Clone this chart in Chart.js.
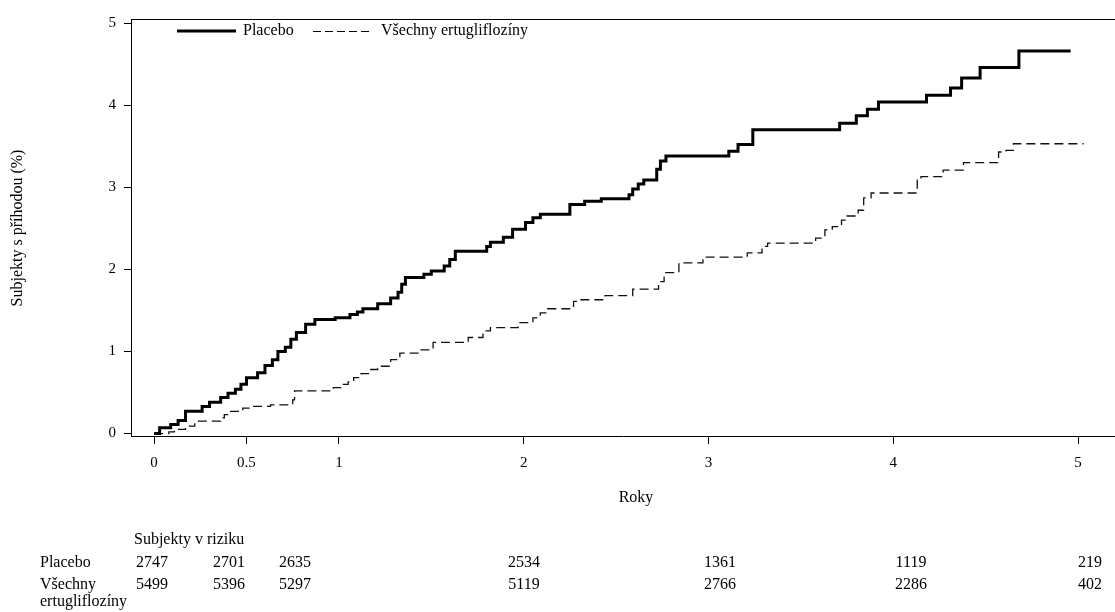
<!DOCTYPE html>
<html>
<head>
<meta charset="utf-8">
<script src="https://cdn.jsdelivr.net/npm/chart.js@4.4.0/dist/chart.umd.min.js"></script>
<style>
  html, body { margin: 0; padding: 0; background: #fff; }
</style>
</head>
<body>
<canvas id="km-chart" width="1115" height="612"></canvas>
<script>
// cumulative % of subjects with event (years / %)
var placeboTimes = [0, 0.03, 0.09, 0.13, 0.17, 0.26, 0.30, 0.36, 0.40, 0.44, 0.47, 0.50, 0.56, 0.60, 0.64, 0.67,
  0.71, 0.74, 0.77, 0.82, 0.87, 0.98, 1.06, 1.10, 1.13, 1.21, 1.28, 1.32, 1.34, 1.36, 1.46, 1.50, 1.57, 1.60,
  1.63, 1.80, 1.82, 1.89, 1.94, 2.01, 2.05, 2.09, 2.25, 2.33, 2.42, 2.57, 2.59, 2.62, 2.65, 2.72, 2.74, 2.77,
  3.11, 3.16, 3.24, 3.71, 3.80, 3.86, 3.92, 4.18, 4.31, 4.37, 4.47, 4.68, 4.96];
var placeboPct = [0, 0.07, 0.11, 0.16, 0.27, 0.33, 0.38, 0.44, 0.49, 0.54, 0.60, 0.68, 0.74, 0.83, 0.90, 1.00,
  1.05, 1.15, 1.23, 1.33, 1.39, 1.41, 1.45, 1.48, 1.52, 1.58, 1.65, 1.72, 1.82, 1.90, 1.94, 1.98, 2.04, 2.12,
  2.22, 2.28, 2.33, 2.39, 2.49, 2.57, 2.63, 2.67, 2.79, 2.83, 2.86, 2.91, 2.98, 3.04, 3.09, 3.22, 3.32, 3.38,
  3.44, 3.52, 3.70, 3.78, 3.87, 3.95, 4.04, 4.12, 4.21, 4.33, 4.46, 4.66, 4.66];

var ertuTimes = [0, 0.08, 0.11, 0.17, 0.22, 0.36, 0.38, 0.41, 0.48, 0.52, 0.63, 0.75, 0.76, 0.97, 1.01, 1.05,
  1.08, 1.12, 1.16, 1.21, 1.28, 1.33, 1.44, 1.51, 1.70, 1.78, 1.82, 1.97, 2.05, 2.09, 2.13, 2.27, 2.29, 2.44,
  2.59, 2.73, 2.76, 2.84, 2.97, 3.21, 3.29, 3.32, 3.58, 3.63, 3.67, 3.72, 3.75, 3.81, 3.84, 3.88, 4.13, 4.15,
  4.27, 4.38, 4.57, 4.61, 4.65, 5.03];
var ertuPct = [0, 0.02, 0.05, 0.09, 0.15, 0.19, 0.23, 0.27, 0.31, 0.33, 0.35, 0.41, 0.52, 0.56, 0.60, 0.63,
  0.68, 0.73, 0.78, 0.82, 0.90, 0.98, 1.02, 1.11, 1.17, 1.25, 1.29, 1.35, 1.41, 1.47, 1.52, 1.61, 1.63, 1.68,
  1.76, 1.85, 1.96, 2.08, 2.15, 2.20, 2.28, 2.32, 2.38, 2.48, 2.52, 2.60, 2.65, 2.72, 2.87, 2.93, 3.09, 3.13,
  3.21, 3.30, 3.43, 3.45, 3.53, 3.53];

var xTicks = [0, 0.5, 1, 2, 3, 4, 5];
var yTicks = [0, 1, 2, 3, 4, 5];

// subjects at risk table
var placeboAtRisk = [2747, 2701, 2635, 2534, 1361, 1119, 219];
var ertuAtRisk = [5499, 5396, 5297, 5119, 2766, 2286, 402];

var FONT = '"Liberation Serif", "Times New Roman", serif';
var riskColX = [152, 229, 295, 524, 720, 911, 1090];

function toPoints(xs, ys) {
  return xs.map(function(x, i) { return { x: x, y: ys[i] }; });
}

var extras = {
  id: 'extras',
  afterDraw: function(chart) {
    var ctx = chart.ctx, a = chart.chartArea;
    ctx.save();
    ctx.strokeStyle = '#000';
    ctx.fillStyle = '#000';

    // top frame
    ctx.lineWidth = 1;
    ctx.beginPath();
    ctx.moveTo(a.left, Math.round(a.top) + 0.5);
    ctx.lineTo(a.right, Math.round(a.top) + 0.5);
    ctx.stroke();

    // legend inside plot
    ctx.font = '16px ' + FONT;
    ctx.textBaseline = 'middle';
    ctx.textAlign = 'left';
    ctx.lineWidth = 3;
    ctx.beginPath(); ctx.moveTo(177, 31); ctx.lineTo(236, 31); ctx.stroke();
    ctx.fillText('Placebo', 243, 31);
    ctx.lineWidth = 1.2;
    ctx.setLineDash([8, 4]);
    ctx.beginPath(); ctx.moveTo(313, 31.5); ctx.lineTo(372, 31.5); ctx.stroke();
    ctx.setLineDash([]);
    ctx.fillText('Všechny ertugliflozíny', 381, 31);

    // axis titles
    ctx.textAlign = 'center';
    ctx.fillText('Roky', 636, 498);
    ctx.save();
    ctx.translate(18, 228);
    ctx.rotate(-Math.PI / 2);
    ctx.fillText('Subjekty s příhodou (%)', 0, 0);
    ctx.restore();

    // at-risk table
    ctx.textAlign = 'left';
    ctx.fillText('Subjekty v riziku', 134, 540);
    ctx.fillText('Placebo', 40, 563);
    ctx.fillText('Všechny', 40, 585);
    ctx.fillText('ertugliflozíny', 40, 602);
    ctx.textAlign = 'center';
    placeboAtRisk.forEach(function(n, i) { ctx.fillText(String(n), riskColX[i], 563); });
    ertuAtRisk.forEach(function(n, i) { ctx.fillText(String(n), riskColX[i], 585); });

    ctx.restore();
  }
};

new Chart(document.getElementById('km-chart'), {
  type: 'line',
  data: {
    datasets: [
      {
        label: 'Placebo',
        data: toPoints(placeboTimes, placeboPct),
        borderColor: '#000',
        borderWidth: 3,
        stepped: true,
        pointRadius: 0,
        fill: false
      },
      {
        label: 'Všechny ertugliflozíny',
        data: toPoints(ertuTimes, ertuPct),
        borderColor: '#111',
        borderWidth: 1.3,
        borderDash: [9, 5],
        stepped: true,
        pointRadius: 0,
        fill: false
      }
    ]
  },
  options: {
    responsive: false,
    animation: false,
    layout: { padding: { top: 19, right: 0, left: 0, bottom: 0 } },
    plugins: {
      legend: { display: false },
      tooltip: { enabled: false }
    },
    scales: {
      x: {
        type: 'linear',
        min: -0.125,
        max: 5.2,
        afterBuildTicks: function(s) { s.ticks = xTicks.map(function(v) { return { value: v }; }); },
        afterFit: function(s) { s.height = 176; },
        grid: { drawOnChartArea: false, tickLength: 8, color: '#000' },
        border: { color: '#000', width: 1 },
        ticks: {
          color: '#000',
          font: { family: FONT, size: 15 },
          padding: 10,
          maxRotation: 0,
          callback: function(v) { return String(v); }
        }
      },
      y: {
        min: -0.03,
        max: 5.05,
        afterBuildTicks: function(s) { s.ticks = yTicks.map(function(v) { return { value: v }; }); },
        afterFit: function(s) { s.width = 131; },
        grid: { drawOnChartArea: false, tickLength: 7, color: '#000' },
        border: { color: '#000', width: 1 },
        ticks: {
          color: '#000',
          font: { family: FONT, size: 15 },
          padding: 8,
          callback: function(v) { return String(v); }
        }
      }
    }
  },
  plugins: [extras]
});
</script>
</body>
</html>
